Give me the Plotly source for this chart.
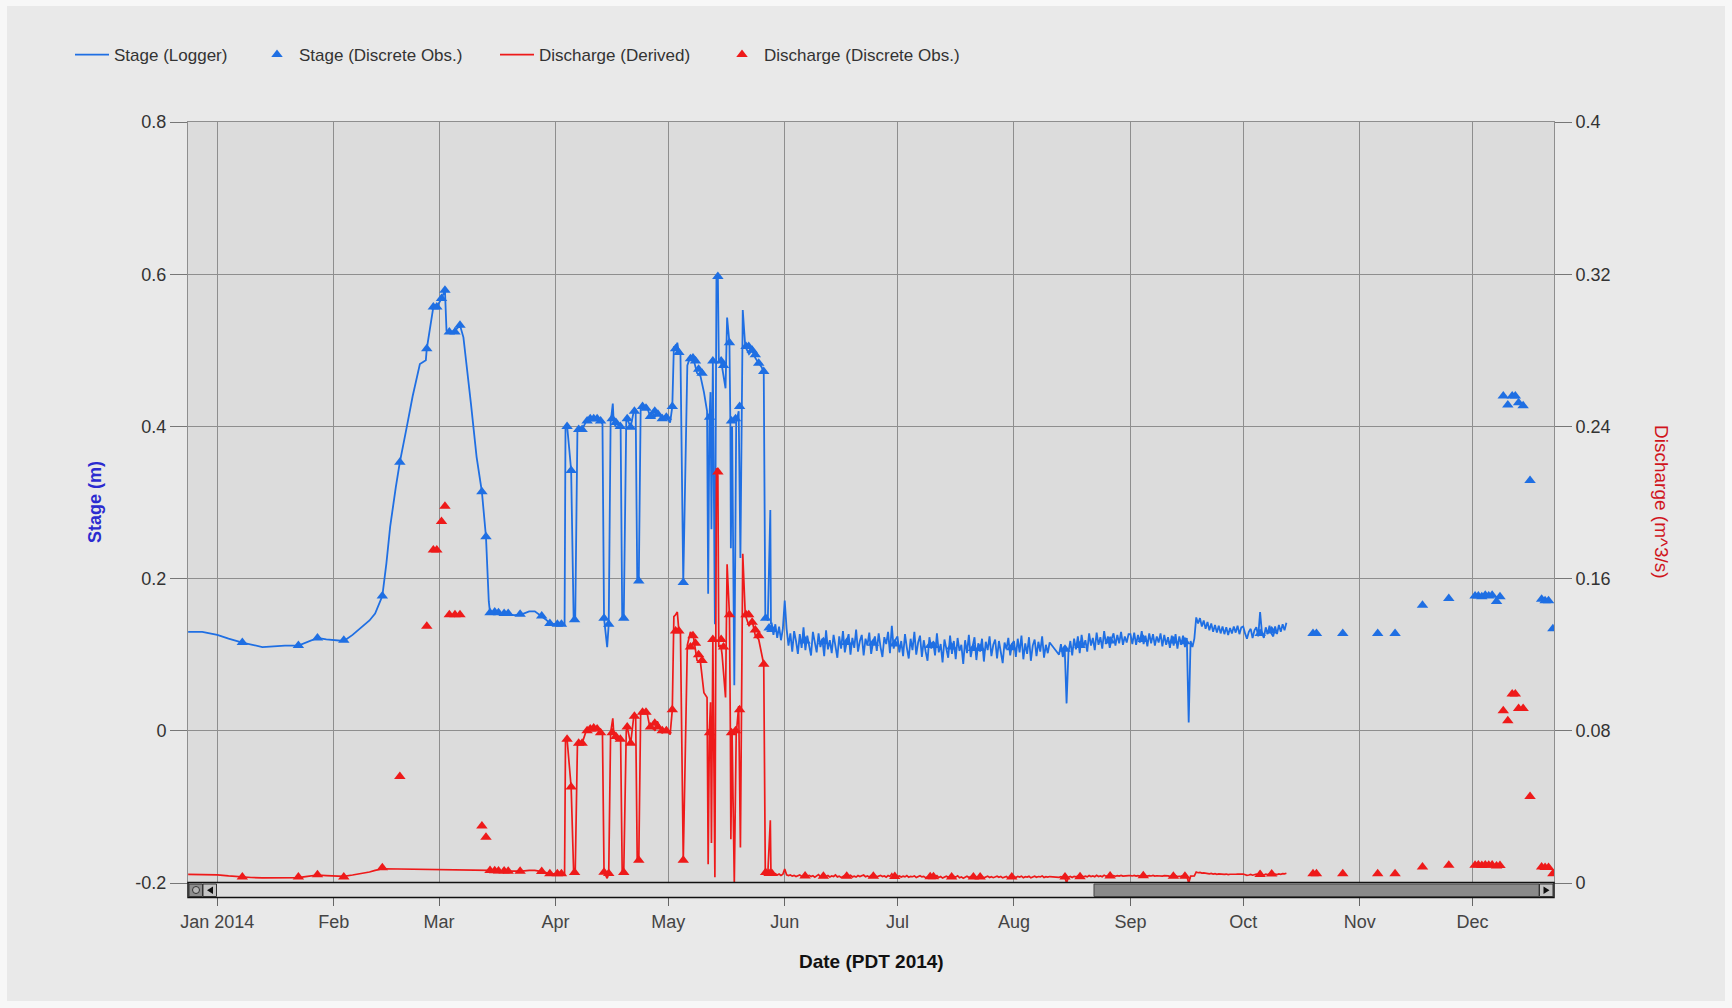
import pandas as pd
import plotly.graph_objects as go

# ---------------- tick labels ----------------
month_tick_dates = ["2014-01-01", "2014-02-01", "2014-03-01", "2014-04-01", "2014-05-01", "2014-06-01",
                    "2014-07-01", "2014-08-01", "2014-09-01", "2014-10-01", "2014-11-01", "2014-12-01"]
month_tick_labels = ["Jan 2014", "Feb", "Mar", "Apr", "May", "Jun", "Jul", "Aug", "Sep", "Oct", "Nov", "Dec"]
stage_ticks = [-0.2, 0, 0.2, 0.4, 0.6, 0.8]
stage_tick_labels = ["-0.2", "0", "0.2", "0.4", "0.6", "0.8"]
discharge_ticks = [0, 0.08, 0.16, 0.24, 0.32, 0.4]
discharge_tick_labels = ["0", "0.08", "0.16", "0.24", "0.32", "0.4"]

# ---------------- logger: winter (Dec 24 - Apr 3) ----------------
winter_times = [
    "2013-12-24 06:00", "2013-12-28 00:00", "2014-01-01 00:00", "2014-01-04 00:00", "2014-01-07 16:00",
    "2014-01-10 00:00", "2014-01-13 00:00", "2014-01-16 00:00", "2014-01-19 00:00", "2014-01-22 14:00",
    "2014-01-25 00:00", "2014-01-27 16:00", "2014-01-30 00:00", "2014-02-01 00:00", "2014-02-03 16:00",
    "2014-02-06 00:00", "2014-02-08 10:00", "2014-02-10 12:00", "2014-02-12 00:00", "2014-02-13 22:00",
    "2014-02-15 00:00", "2014-02-16 00:00", "2014-02-17 12:00", "2014-02-18 14:00", "2014-02-20 10:00",
    "2014-02-22 00:00", "2014-02-23 22:00", "2014-02-25 12:00", "2014-02-25 18:00", "2014-02-27 12:00",
    "2014-02-28 10:00", "2014-03-01 16:00", "2014-03-02 14:00", "2014-03-03 00:00", "2014-03-04 08:00",
    "2014-03-05 12:00", "2014-03-06 14:00", "2014-03-07 12:00", "2014-03-09 12:00", "2014-03-11 00:00",
    "2014-03-12 10:00", "2014-03-13 12:00", "2014-03-14 06:00", "2014-03-14 14:00", "2014-03-15 12:00",
    "2014-03-17 00:00", "2014-03-19 00:00", "2014-03-21 00:00", "2014-03-23 00:00", "2014-03-25 00:00",
    "2014-03-26 12:00", "2014-03-28 08:00", "2014-03-29 12:00", "2014-03-30 12:00", "2014-04-01 00:00",
    "2014-04-02 14:00", "2014-04-03 10:00",
]
winter_stage = [
    0.130, 0.130, 0.126, 0.121, 0.116,
    0.113, 0.110, 0.111, 0.112, 0.112,
    0.117, 0.122, 0.120, 0.119, 0.118,
    0.126, 0.136, 0.145, 0.154, 0.177,
    0.220, 0.268, 0.320, 0.353, 0.399,
    0.440, 0.482, 0.487, 0.502, 0.557,
    0.557, 0.568, 0.579, 0.526, 0.524,
    0.527, 0.533, 0.517, 0.430, 0.360,
    0.314, 0.255, 0.170, 0.155, 0.155,
    0.154, 0.153, 0.152, 0.153, 0.157,
    0.157, 0.151, 0.146, 0.141, 0.140,
    0.140, 0.139,
]
winter_discharge = [
    0.0045, 0.0045, 0.0043, 0.0037, 0.0031,
    0.0029, 0.0027, 0.0027, 0.0028, 0.0028,
    0.0035, 0.0042, 0.0039, 0.0037, 0.0035,
    0.0042, 0.0049, 0.0058, 0.0066, 0.0075,
    None, None, None, None, None,
    None, None, None, None, None,
    None, None, None, None, None,
    None, None, None, None, None,
    None, None, None, 0.0066, 0.0064,
    0.0063, 0.0062, 0.0062, 0.0062, 0.0066,
    0.0066, 0.0060, 0.0054, 0.0049, 0.0048,
    0.0048, 0.0047,
]

# ---------------- logger: spring (Apr 3 - May 28) ----------------
spring_times = [
    "2014-04-03 16:00", "2014-04-04 02:00", "2014-04-04 16:00", "2014-04-05 04:00", "2014-04-05 20:00",
    "2014-04-06 06:00", "2014-04-06 20:00", "2014-04-07 04:00", "2014-04-08 02:00", "2014-04-09 00:00",
    "2014-04-10 00:00", "2014-04-11 00:00", "2014-04-12 00:00", "2014-04-13 00:00", "2014-04-13 12:00",
    "2014-04-13 22:00", "2014-04-14 18:00", "2014-04-15 04:00", "2014-04-15 16:00", "2014-04-16 06:00",
    "2014-04-16 12:00", "2014-04-17 00:00", "2014-04-18 00:00", "2014-04-18 08:00", "2014-04-18 18:00",
    "2014-04-19 04:00", "2014-04-19 20:00", "2014-04-20 02:00", "2014-04-21 00:00", "2014-04-21 20:00",
    "2014-04-22 08:00", "2014-04-22 18:00", "2014-04-23 04:00", "2014-04-23 16:00", "2014-04-24 02:00",
    "2014-04-25 08:00", "2014-04-26 00:00", "2014-04-26 18:00", "2014-04-27 12:00", "2014-04-28 02:00",
    "2014-04-29 10:00", "2014-04-30 06:00", "2014-05-01 04:00", "2014-05-01 12:00", "2014-05-02 02:00",
    "2014-05-02 12:00", "2014-05-02 23:00", "2014-05-03 10:00", "2014-05-03 20:00", "2014-05-04 06:00",
    "2014-05-05 00:00", "2014-05-06 02:00", "2014-05-06 22:00", "2014-05-07 18:00", "2014-05-08 16:00",
    "2014-05-09 14:00", "2014-05-10 12:00", "2014-05-11 08:00", "2014-05-11 15:00", "2014-05-11 23:00",
    "2014-05-12 06:00", "2014-05-12 12:00", "2014-05-12 21:00", "2014-05-13 10:00", "2014-05-13 20:00",
    "2014-05-14 05:00", "2014-05-14 11:00", "2014-05-15 00:00", "2014-05-15 08:00", "2014-05-16 06:00",
    "2014-05-16 16:00", "2014-05-17 07:00", "2014-05-17 13:00", "2014-05-17 16:00", "2014-05-18 00:00",
    "2014-05-18 14:00", "2014-05-19 02:00", "2014-05-19 18:00", "2014-05-20 05:00", "2014-05-20 20:00",
    "2014-05-21 12:00", "2014-05-22 12:00", "2014-05-23 08:00", "2014-05-24 04:00", "2014-05-25 02:00",
    "2014-05-25 20:00", "2014-05-26 10:00", "2014-05-26 20:00", "2014-05-27 12:00", "2014-05-28 04:00",
    "2014-05-28 08:00",
]
spring_stage = [
    0.400, 0.401, 0.370, 0.342, 0.146,
    0.146, 0.393, 0.396, 0.396, 0.405,
    0.409, 0.410, 0.410, 0.407, 0.403,
    0.148, 0.110, 0.140, 0.405, 0.430,
    0.405, 0.400, 0.400, 0.398, 0.150,
    0.148, 0.408, 0.410, 0.399, 0.420,
    0.423, 0.200, 0.197, 0.424, 0.426,
    0.426, 0.416, 0.418, 0.412, 0.420,
    0.410, 0.414, 0.408, 0.405, 0.426,
    0.505, 0.502, 0.510, 0.497, 0.497,
    0.195, 0.480, 0.492, 0.488, 0.470,
    0.466, 0.445, 0.420, 0.180, 0.410,
    0.445, 0.265, 0.486, 0.140, 0.597,
    0.597, 0.488, 0.485, 0.478, 0.450,
    0.543, 0.510, 0.400, 0.240, 0.400,
    0.060, 0.405, 0.420, 0.227, 0.553,
    0.505, 0.495, 0.500, 0.490, 0.483,
    0.478, 0.472, 0.151, 0.145, 0.290,
    0.140,
]
spring_discharge = [
    0.0756, 0.0756, 0.0620, 0.0504, 0.0055,
    0.0055, 0.0720, 0.0734, 0.0734, 0.0790,
    0.0810, 0.0815, 0.0815, 0.0800, 0.0780,
    0.0057, 0.0025, 0.0048, 0.0790, 0.0865,
    0.0790, 0.0756, 0.0756, 0.0750, 0.0057,
    0.0055, 0.0800, 0.0820, 0.0734, 0.0876,
    0.0880, 0.0120, 0.0120, 0.0898, 0.0898,
    0.0898, 0.0830, 0.0820, 0.0800, 0.0850,
    0.0790, 0.0800, 0.0790, 0.0780, 0.0910,
    0.1400, 0.1410, 0.1424, 0.1325, 0.1320,
    0.0120, 0.1250, 0.1320, 0.1290, 0.1170,
    0.1160, 0.1000, 0.0975, 0.0099, 0.0800,
    0.0950, 0.0210, 0.1280, 0.0030, 0.2180,
    0.2140, 0.1240, 0.1250, 0.1200, 0.0975,
    0.1675, 0.1410, 0.0780, 0.0230, 0.0780,
    0.0000, 0.0780, 0.0930, 0.0186, 0.1730,
    0.1410, 0.1350, 0.1380, 0.1300, 0.1280,
    0.1200, 0.1150, 0.0055, 0.0050, 0.0330,
    0.0050,
]

# ---------------- logger: summer/fall, 12-hourly from 2014-05-28 12:00 ----------------
summer_start = "2014-05-28 12:00"
summer_stage = [
    # May 28.5 - Jun 1.0
    0.142, 0.126, 0.140, 0.122, 0.137, 0.119, 0.134, 0.171,
    # June
    0.134, 0.112, 0.128, 0.104, 0.131, 0.118, 0.101, 0.127, 0.109, 0.136,
    0.106, 0.125, 0.113, 0.099, 0.130, 0.115, 0.103, 0.128, 0.110, 0.121,
    0.098, 0.132, 0.107, 0.119, 0.102, 0.126, 0.111, 0.096, 0.124, 0.108,
    0.131, 0.103, 0.117, 0.127, 0.100, 0.122, 0.109, 0.133, 0.104, 0.118,
    0.126, 0.099, 0.121, 0.112, 0.129, 0.101, 0.116, 0.124, 0.105, 0.128,
    0.110, 0.097, 0.123, 0.114, 0.130, 0.102, 0.138, 0.108, 0.120,
    # July
    0.124, 0.103, 0.118, 0.098, 0.127, 0.109, 0.095, 0.121, 0.106, 0.130,
    0.100, 0.116, 0.125, 0.097, 0.119, 0.104, 0.092, 0.123, 0.108, 0.117,
    0.099, 0.128, 0.103, 0.114, 0.090, 0.120, 0.107, 0.096, 0.125, 0.101,
    0.118, 0.094, 0.122, 0.105, 0.113, 0.088, 0.119, 0.102, 0.126, 0.097,
    0.111, 0.123, 0.093, 0.115, 0.104, 0.121, 0.091, 0.117, 0.106, 0.124,
    0.098, 0.113, 0.120, 0.095, 0.118, 0.103, 0.089, 0.116, 0.107, 0.122,
    0.099, 0.114,
    # August
    0.118, 0.097, 0.121, 0.103, 0.125, 0.094, 0.115, 0.101, 0.123, 0.092,
    0.112, 0.120, 0.098, 0.117, 0.104, 0.124, 0.096, 0.113, 0.102, 0.116,
    None, None, None, None,
    0.100, 0.114, 0.097, 0.109, 0.036,
    0.103, 0.118, 0.099, 0.121, 0.107, 0.124, 0.102, 0.126, 0.110, 0.119,
    0.104, 0.128, 0.112, 0.122, 0.106, 0.129, 0.113, 0.123, 0.108, 0.131,
    0.114, 0.124, 0.109, 0.121, 0.128, 0.112, 0.126, 0.115, 0.130, 0.113,
    0.124, 0.116, 0.127,
    # September
    0.127, 0.114, 0.129, 0.113, 0.126, 0.116, 0.131, 0.114, 0.125, 0.111,
    0.128, 0.115, 0.127, 0.112, 0.124, 0.116, 0.128, 0.111, 0.126, 0.113,
    0.123, 0.109, 0.125, 0.112, 0.127, 0.108, 0.124, 0.113, 0.125, 0.110,
    0.122, 0.011, 0.118, 0.110, 0.121, 0.149,
    0.141, 0.148, 0.137, 0.145, 0.134, 0.143, 0.132, 0.141, 0.130, 0.139,
    0.129, 0.138, 0.128, 0.137, 0.127, 0.136, 0.126, 0.135, 0.128, 0.137,
    0.129, 0.138, 0.127, 0.136,
    # October
    0.137, 0.128, 0.121, 0.130, 0.134, 0.122, 0.132, 0.136, 0.124, 0.156,
    0.128, 0.122, 0.136, 0.127, 0.138, 0.128, 0.124, 0.137, 0.127, 0.139,
    0.130, 0.140, 0.132, 0.142,
]
summer_discharge = [
    0.0052, 0.0044, 0.0049, 0.0042, 0.0047, 0.0040, 0.0046, 0.0074,
    0.0043, 0.0039, 0.0042, 0.0036, 0.0040, 0.0034, 0.0039, 0.0042, 0.0035, 0.0039,
    0.0033, 0.0037, 0.0040, 0.0034, 0.0038, 0.0031, 0.0037, 0.0044, 0.0033, 0.0036,
    0.0030, 0.0036, 0.0039, 0.0032, 0.0037, 0.0034, 0.0042, 0.0032, 0.0036, 0.0029,
    0.0035, 0.0039, 0.0033, 0.0037, 0.0041, 0.0032, 0.0036, 0.0031, 0.0039, 0.0034,
    0.0037, 0.0042, 0.0033, 0.0037, 0.0032, 0.0040, 0.0035, 0.0038, 0.0033, 0.0036,
    0.0040, 0.0034, 0.0037, 0.0031, 0.0039, 0.0034, 0.0048, 0.0032, 0.0037,
    0.0034, 0.0037, 0.0031, 0.0036, 0.0032, 0.0039, 0.0030, 0.0035, 0.0033, 0.0037,
    0.0029, 0.0034, 0.0038, 0.0032, 0.0035, 0.0027, 0.0033, 0.0037, 0.0031, 0.0034,
    0.0032, 0.0039, 0.0029, 0.0034, 0.0026, 0.0033, 0.0036, 0.0030, 0.0033, 0.0028,
    0.0035, 0.0031, 0.0038, 0.0028, 0.0032, 0.0025, 0.0032, 0.0035, 0.0029, 0.0033,
    0.0030, 0.0037, 0.0027, 0.0032, 0.0031, 0.0034, 0.0027, 0.0032, 0.0036, 0.0029,
    0.0033, 0.0028, 0.0032, 0.0036, 0.0030, 0.0034, 0.0027, 0.0032, 0.0034, 0.0026,
    0.0031, 0.0033,
    0.0033, 0.0029, 0.0034, 0.0031, 0.0036, 0.0028, 0.0033, 0.0031, 0.0035, 0.0027,
    0.0032, 0.0036, 0.0030, 0.0034, 0.0032, 0.0037, 0.0029, 0.0033, 0.0031, 0.0034,
    None, None, None, None,
    0.0030, 0.0033, 0.0029, 0.0032, 0.0002,
    0.0031, 0.0034, 0.0029, 0.0035, 0.0032, 0.0036, 0.0031, 0.0037, 0.0033, 0.0036,
    0.0032, 0.0039, 0.0034, 0.0037, 0.0033, 0.0040, 0.0034, 0.0037, 0.0033, 0.0041,
    0.0036, 0.0038, 0.0034, 0.0037, 0.0039, 0.0035, 0.0039, 0.0036, 0.0040, 0.0036,
    0.0038, 0.0037, 0.0039,
    0.0039, 0.0037, 0.0040, 0.0036, 0.0039, 0.0037, 0.0040, 0.0037, 0.0039, 0.0036,
    0.0039, 0.0037, 0.0040, 0.0036, 0.0038, 0.0037, 0.0039, 0.0036, 0.0039, 0.0036,
    0.0037, 0.0035, 0.0038, 0.0036, 0.0039, 0.0034, 0.0037, 0.0036, 0.0038, 0.0035,
    0.0037, 0.0000, 0.0036, 0.0035, 0.0037, 0.0058,
    0.0054, 0.0056, 0.0052, 0.0053, 0.0050, 0.0051, 0.0048, 0.0050, 0.0047, 0.0049,
    0.0046, 0.0048, 0.0046, 0.0047, 0.0045, 0.0047, 0.0044, 0.0046, 0.0045, 0.0047,
    0.0046, 0.0047, 0.0045, 0.0047,
    0.0047, 0.0044, 0.0040, 0.0042, 0.0045, 0.0041, 0.0043, 0.0046, 0.0043, 0.0062,
    0.0045, 0.0042, 0.0046, 0.0044, 0.0047, 0.0045, 0.0043, 0.0047, 0.0044, 0.0048,
    0.0046, 0.0049, 0.0048, 0.0051,
]

# ---------------- discrete observations (shared times) ----------------
obs_times = [
    "2014-01-07 16:00", "2014-01-22 14:00", "2014-01-27 16:00", "2014-02-03 16:00", "2014-02-13 22:00",
    "2014-02-18 14:00", "2014-02-25 18:00", "2014-02-27 12:00", "2014-02-28 10:00", "2014-03-01 16:00",
    "2014-03-02 14:00", "2014-03-03 18:00", "2014-03-05 06:00", "2014-03-06 14:00", "2014-03-12 10:00",
    "2014-03-13 12:00", "2014-03-14 14:00", "2014-03-15 20:00", "2014-03-16 20:00", "2014-03-18 08:00",
    "2014-03-19 10:00", "2014-03-22 14:00", "2014-03-28 08:00", "2014-03-30 12:00", "2014-04-01 12:00",
    "2014-04-02 14:00",
    "2014-04-04 02:00", "2014-04-05 04:00", "2014-04-06 02:00", "2014-04-07 04:00", "2014-04-08 02:00",
    "2014-04-09 10:00", "2014-04-10 06:00", "2014-04-11 04:00", "2014-04-12 02:00", "2014-04-13 00:00",
    "2014-04-13 22:00", "2014-04-15 04:00", "2014-04-16 02:00", "2014-04-17 02:00", "2014-04-18 06:00",
    "2014-04-19 04:00", "2014-04-20 02:00", "2014-04-21 00:00", "2014-04-22 00:00", "2014-04-23 04:00",
    "2014-04-24 04:00", "2014-04-25 02:00", "2014-04-26 06:00", "2014-04-27 10:00", "2014-04-28 06:00",
    "2014-04-29 10:00", "2014-04-30 12:00", "2014-05-02 02:00", "2014-05-02 23:00", "2014-05-03 20:00",
    "2014-05-05 00:00", "2014-05-06 22:00", "2014-05-07 14:00", "2014-05-08 06:00", "2014-05-09 02:00",
    "2014-05-10 00:00", "2014-05-12 00:00", "2014-05-12 21:00", "2014-05-14 05:00", "2014-05-15 02:00",
    "2014-05-15 17:00", "2014-05-17 07:00", "2014-05-17 20:00", "2014-05-18 22:00", "2014-05-20 00:00",
    "2014-05-21 17:00", "2014-05-22 10:00", "2014-05-23 08:00", "2014-05-24 04:00", "2014-05-25 02:00",
    "2014-05-26 10:00", "2014-05-26 22:00", "2014-05-27 20:00", "2014-05-28 14:00",
    "2014-06-06 10:00", "2014-06-11 07:00", "2014-06-17 12:00", "2014-06-24 14:00", "2014-06-30 07:00",
    "2014-07-09 17:00", "2014-07-10 14:00", "2014-07-15 10:00", "2014-07-21 05:00", "2014-07-23 00:00",
    "2014-07-31 10:00", "2014-08-14 14:00", "2014-08-18 14:00", "2014-08-26 14:00", "2014-09-04 10:00",
    "2014-09-12 10:00", "2014-09-15 12:00", "2014-10-05 12:00", "2014-10-08 14:00",
    "2014-10-19 14:00", "2014-10-20 12:00", "2014-10-27 12:00", "2014-11-05 19:00", "2014-11-10 10:00",
    "2014-11-17 17:00", "2014-11-24 17:00", "2014-12-01 17:00", "2014-12-02 14:00", "2014-12-03 12:00",
    "2014-12-04 10:00", "2014-12-05 08:00", "2014-12-06 06:00", "2014-12-07 10:00", "2014-12-08 08:00",
    "2014-12-09 05:00", "2014-12-10 10:00", "2014-12-11 14:00", "2014-12-12 10:00", "2014-12-13 07:00",
    "2014-12-14 12:00", "2014-12-16 08:00", "2014-12-19 10:00", "2014-12-20 08:00", "2014-12-21 06:00",
    "2014-12-22 10:00",
]
stage_obs = [
    0.116, 0.112, 0.122, 0.119, 0.177,
    0.353, 0.502, 0.557, 0.557, 0.568,
    0.579, 0.524, 0.524, 0.533, 0.314,
    0.255, 0.155, 0.156, 0.155, 0.154,
    0.154, 0.153, 0.151, 0.141, 0.140,
    0.140,
    0.400, 0.342, 0.146, 0.396, 0.396,
    0.407, 0.410, 0.410, 0.410, 0.407,
    0.148, 0.140, 0.410, 0.405, 0.400,
    0.148, 0.410, 0.399, 0.420, 0.197,
    0.426, 0.424, 0.413, 0.420, 0.416,
    0.410, 0.412, 0.426, 0.502, 0.497,
    0.195, 0.489, 0.490, 0.486, 0.475,
    0.470, 0.412, 0.486, 0.597, 0.486,
    0.480, 0.510, 0.407, 0.410, 0.426,
    0.505, 0.505, 0.500, 0.494, 0.483,
    0.472, 0.148, 0.135, 0.133,
    0.118, 0.117, 0.116, 0.115, 0.114,
    0.112, 0.112, 0.110, 0.108, 0.108,
    0.109, 0.107, 0.112, 0.118, 0.120,
    0.118, 0.117, 0.128, 0.131,
    0.128, 0.128, 0.128, 0.128, 0.128,
    0.165, 0.174, 0.177, 0.177, 0.176,
    0.178, 0.177, 0.178, 0.170, 0.176,
    0.440, 0.428, 0.440, 0.440, 0.431,
    0.427, 0.329, 0.173, 0.171, 0.171,
    0.134,
]
discharge_obs = [
    0.0031, 0.0031, 0.0044, 0.0031, 0.0080,
    0.0560, 0.1350, 0.1750, 0.1750, 0.1900,
    0.1980, 0.1410, 0.1410, 0.1410, 0.0300,
    0.0240, 0.0066, 0.0064, 0.0063, 0.0063,
    0.0062, 0.0062, 0.0060, 0.0049, 0.0048,
    0.0048,
    0.0756, 0.0504, 0.0055, 0.0734, 0.0734,
    0.0800, 0.0810, 0.0815, 0.0810, 0.0790,
    0.0057, 0.0050, 0.0790, 0.0770, 0.0756,
    0.0055, 0.0820, 0.0734, 0.0876, 0.0120,
    0.0898, 0.0898, 0.0820, 0.0840, 0.0820,
    0.0800, 0.0800, 0.0910, 0.1325, 0.1325,
    0.0120, 0.1240, 0.1300, 0.1260, 0.1200,
    0.1170, 0.0790, 0.1280, 0.2160, 0.1280,
    0.1240, 0.1410, 0.0790, 0.0800, 0.0910,
    0.1410, 0.1410, 0.1370, 0.1330, 0.1300,
    0.1150, 0.0055, 0.0050, 0.0050,
    0.0037, 0.0036, 0.0036, 0.0035, 0.0034,
    0.0033, 0.0033, 0.0032, 0.0031, 0.0031,
    0.0032, 0.0031, 0.0033, 0.0037, 0.0038,
    0.0036, 0.0036, 0.0045, 0.0047,
    0.0049, 0.0049, 0.0049, 0.0049, 0.0049,
    0.0084, 0.0093, 0.0093, 0.0094, 0.0092,
    0.0095, 0.0093, 0.0094, 0.0090, 0.0092,
    0.0906, 0.0853, 0.0993, 0.0993, 0.0917,
    0.0917, 0.0455, 0.0084, 0.0082, 0.0082,
    0.0049,
]

# ---------------- assemble logger series ----------------
summer_times = pd.date_range(summer_start, periods=len(summer_stage), freq="12h")
logger_times = list(pd.to_datetime(winter_times + spring_times)) + list(summer_times)
stage_logger = winter_stage + spring_stage + summer_stage
discharge_derived = winter_discharge + spring_discharge + summer_discharge

BLUE = "#1f6fe3"
RED = "#ee1a1a"
FONT = "Liberation Sans, Arial, sans-serif"
GRID = "#8e8e8e"

# plot-area geometry (pixels) used for decorative shapes
L, R, T, B = 188, 1554, 122, 883
W, H = R - L, B - T


def px(x):
    return (x - L) / W


def py(y):
    return (B - y) / H


fig = go.Figure()
fig.add_trace(go.Scatter(x=logger_times, y=stage_logger, mode="lines", name="Stage (Logger)",
                         line=dict(color=BLUE, width=1.8), connectgaps=True, legend="legend"))
fig.add_trace(go.Scatter(x=pd.to_datetime(obs_times), y=stage_obs, mode="markers", name="Stage (Discrete Obs.)",
                         marker=dict(symbol="triangle-up", size=10, color=BLUE), legend="legend2"))
fig.add_trace(go.Scatter(x=logger_times, y=discharge_derived, mode="lines", name="Discharge (Derived)",
                         line=dict(color=RED, width=1.7), connectgaps=True, yaxis="y2", legend="legend3"))
fig.add_trace(go.Scatter(x=pd.to_datetime(obs_times), y=discharge_obs, mode="markers", name="Discharge (Discrete Obs.)",
                         marker=dict(symbol="triangle-up", size=10, color=RED), yaxis="y2", legend="legend4"))

legend_common = dict(xref="container", yref="container", xanchor="left", yanchor="top",
                     orientation="h", bgcolor="rgba(0,0,0,0)", borderwidth=0, itemwidth=34,
                     font=dict(family=FONT, size=17, color="#333333"))
legend_y = 1 - 37 / 1008

shapes = []
# light outer frame of the page
for (x0, y0, x1, y1) in [(0, 0, 1732, 6), (0, 1001, 1732, 1008), (0, 0, 7, 1008), (1725, 0, 1732, 1008)]:
    shapes.append(dict(type="rect", xref="paper", yref="paper", x0=px(x0), x1=px(x1), y0=py(y1), y1=py(y0),
                       fillcolor="#f7f7f7", line=dict(width=0), layer="above"))
# range scrollbar under the plot
shapes += [
    dict(type="rect", xref="paper", yref="paper", x0=px(188), x1=px(1554), y0=py(897.5), y1=py(882.5),
         fillcolor="#dedede", line=dict(color="#111111", width=1.5), layer="above"),
    dict(type="rect", xref="paper", yref="paper", x0=px(1094), x1=px(1539), y0=py(896.5), y1=py(884),
         fillcolor="#8a8a8a", line=dict(color="#444444", width=1), layer="above"),
    dict(type="rect", xref="paper", yref="paper", x0=px(189), x1=px(202.5), y0=py(896.5), y1=py(884),
         fillcolor="#8e8e8e", line=dict(color="#333333", width=1), layer="above"),
    dict(type="circle", xref="paper", yref="paper", x0=px(192.5), x1=px(199.5), y0=py(893.5), y1=py(886.5),
         fillcolor="#b5b5b5", line=dict(color="#333333", width=1), layer="above"),
    dict(type="rect", xref="paper", yref="paper", x0=px(203), x1=px(216.5), y0=py(896.5), y1=py(884),
         fillcolor="#c4c4c4", line=dict(color="#333333", width=1), layer="above"),
    dict(type="path", xref="paper", yref="paper",
         path=f"M {px(213)} {py(886.5)} L {px(207)} {py(890.2)} L {px(213)} {py(894)} Z",
         fillcolor="#111111", line=dict(width=0), layer="above"),
    dict(type="rect", xref="paper", yref="paper", x0=px(1539.5), x1=px(1553), y0=py(896.5), y1=py(884),
         fillcolor="#c4c4c4", line=dict(color="#333333", width=1), layer="above"),
    dict(type="path", xref="paper", yref="paper",
         path=f"M {px(1543.5)} {py(886.5)} L {px(1549.5)} {py(890.2)} L {px(1543.5)} {py(894)} Z",
         fillcolor="#111111", line=dict(width=0), layer="above"),
]

annotations = [
    dict(text="Stage (m)", xref="paper", yref="paper", x=px(95), y=py(502), textangle=-90,
         showarrow=False, xanchor="center", yanchor="middle",
         font=dict(family=FONT, size=18, color="#2b2bd0", weight="bold")),
    dict(text="Discharge (m^3/s)", xref="paper", yref="paper", x=px(1662), y=py(502), textangle=90,
         showarrow=False, xanchor="center", yanchor="middle",
         font=dict(family=FONT, size=19, color="#d0141c")),
    dict(text="Date (PDT 2014)", xref="paper", yref="paper", x=px(871), y=py(961),
         showarrow=False, xanchor="center", yanchor="middle",
         font=dict(family=FONT, size=19, color="#111111", weight="bold")),
]

fig.update_layout(
    width=1732, height=1008, autosize=False,
    margin=dict(l=L, r=1732 - R, t=T, b=1008 - B, autoexpand=False),
    paper_bgcolor="#e9e9e9", plot_bgcolor="#dcdcdc",
    font=dict(family=FONT, size=17, color="#333333"),
    showlegend=True,
    legend=dict(legend_common, x=70 / 1732, y=legend_y),
    legend2=dict(legend_common, x=255 / 1732, y=legend_y),
    legend3=dict(legend_common, x=495 / 1732, y=legend_y),
    legend4=dict(legend_common, x=720 / 1732, y=legend_y),
    xaxis=dict(type="date", range=["2013-12-24 05:00", "2014-12-22 17:00"],
               tickvals=month_tick_dates, ticktext=month_tick_labels,
               showgrid=True, gridcolor=GRID, gridwidth=1, zeroline=False,
               ticks="outside", ticklen=22, tickcolor="#666666", tickwidth=1,
               showline=True, linecolor=GRID, linewidth=1, mirror=True,
               tickfont=dict(family=FONT, size=18, color="#444444")),
    yaxis=dict(range=[-0.2, 0.8], tickvals=stage_ticks, ticktext=stage_tick_labels,
               showgrid=True, gridcolor=GRID, gridwidth=1, zeroline=False,
               ticks="outside", ticklen=17, tickcolor="#777777",
               showline=True, linecolor=GRID, linewidth=1, mirror=True,
               tickfont=dict(family=FONT, size=18, color="#333333")),
    yaxis2=dict(range=[0, 0.4], overlaying="y", side="right",
                tickvals=discharge_ticks, ticktext=discharge_tick_labels,
                showgrid=False, zeroline=False,
                ticks="outside", ticklen=17, tickcolor="#777777",
                tickfont=dict(family=FONT, size=18, color="#333333")),
    shapes=shapes,
    annotations=annotations,
)

fig.write_html("out.html")
